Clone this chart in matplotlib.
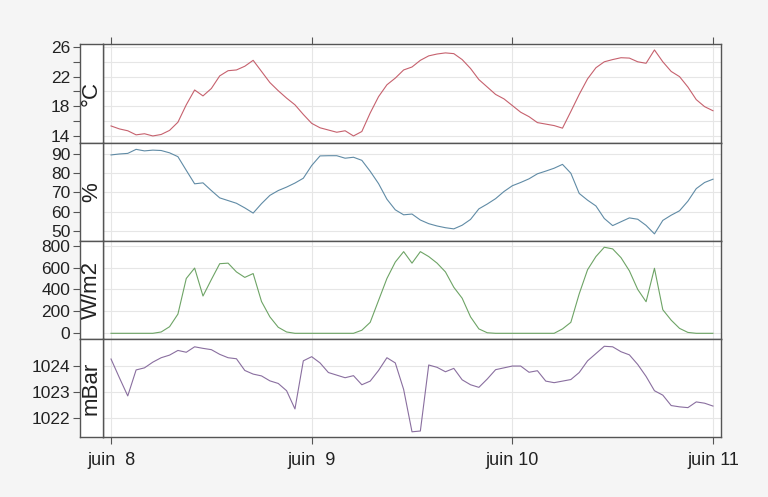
import matplotlib
matplotlib.use('Agg')
import matplotlib.pyplot as plt
import numpy as np

plt.rcParams['font.family'] = ['Liberation Sans', 'DejaVu Sans']

# hourly readings, juin 8 00:00 -> juin 11 00:00
hours = np.arange(73)

temperature = [
    15.35, 14.95, 14.7, 14.15, 14.3, 14.0, 14.2, 14.75, 15.85, 18.2,
    20.2, 19.4, 20.4, 22.1, 22.8, 22.9, 23.4, 24.2, 22.7, 21.2,
    20.1, 19.1, 18.2, 16.9, 15.7, 15.1, 14.8, 14.5, 14.7, 14.0,
    14.6, 17.1, 19.3, 20.9, 21.8, 22.9, 23.3, 24.2, 24.8, 25.05,
    25.2, 25.1, 24.3, 23.1, 21.6, 20.6, 19.6, 19.0, 18.1, 17.2,
    16.6, 15.8, 15.6, 15.4, 15.05, 17.3, 19.6, 21.7, 23.2, 24.0,
    24.3, 24.55, 24.5, 24.0, 23.8, 25.6, 24.0, 22.7, 22.0, 20.6,
    18.9, 17.95, 17.4,
]

humidity = [
    89.5, 90.0, 90.3, 92.4, 91.6, 92.0, 91.8, 90.6, 88.6, 81.5,
    74.5, 75.0, 71.0, 67.2, 65.8, 64.4, 62.0, 59.3, 64.2, 68.5,
    71.0, 72.8, 74.9, 77.4, 84.0, 89.0, 89.1, 89.1, 87.8, 88.3,
    86.7, 81.0, 74.6, 66.5, 61.0, 58.4, 58.8, 55.7, 53.8, 52.6,
    51.7, 51.1, 53.0, 56.0, 61.5, 64.0, 66.8, 70.5, 73.5, 75.2,
    77.1, 79.7, 81.1, 82.6, 84.6, 80.0, 69.5, 66.0, 63.0, 56.5,
    52.8, 54.8, 56.8, 56.1, 52.9, 48.5, 55.5, 58.2, 60.5, 65.5,
    72.0, 75.2, 76.9,
]

radiation = [
    0, 0, 0, 0, 0, 0, 12, 60, 175, 500,
    595, 340, 490, 635, 640, 560, 510, 545, 290, 150,
    55, 12, 0, 0, 0, 0, 0, 0, 0, 0,
    28, 100, 300, 500, 650, 745, 640, 745, 700, 640,
    560, 420, 320, 150, 40, 5, 0, 0, 0, 0,
    0, 0, 0, 0, 40, 100, 360, 580, 700, 785,
    770, 690, 570, 400, 288, 593, 215, 120, 45, 8,
    0, 0, 0,
]

pressure = [
    1024.27, 1023.55, 1022.85, 1023.85, 1023.93, 1024.15, 1024.32, 1024.42, 1024.60, 1024.53,
    1024.74, 1024.68, 1024.63, 1024.45, 1024.32, 1024.28, 1023.83, 1023.69, 1023.62, 1023.43,
    1023.33, 1023.05, 1022.35, 1024.20, 1024.36, 1024.12, 1023.75, 1023.65, 1023.55, 1023.63,
    1023.28, 1023.42, 1023.83, 1024.32, 1024.12, 1023.10, 1021.47, 1021.50, 1024.04, 1023.95,
    1023.78, 1023.91, 1023.47, 1023.28, 1023.18, 1023.50, 1023.86, 1023.93, 1024.00, 1024.00,
    1023.76, 1023.82, 1023.42, 1023.36, 1023.42, 1023.48, 1023.75, 1024.20, 1024.48, 1024.76,
    1024.74, 1024.55, 1024.43, 1024.06, 1023.60, 1023.05, 1022.88, 1022.48, 1022.43, 1022.40,
    1022.62, 1022.57, 1022.46,
]

units = ['°C', '%', 'W/m2', 'mBar']
day_ticks = [0, 24, 48, 72]
day_labels = ['juin  8', 'juin  9', 'juin 10', 'juin 11']

W, H = 768, 497
bg = '#f5f5f5'
frame = '#555555'
grid = '#e6e6e6'

fig = plt.figure(figsize=(W / 100, H / 100), dpi=100, facecolor=bg)

# pixel layout (top, bottom) of each panel
rows = [(44, 143), (143, 241), (241, 339), (339, 437)]
x_strip, x_data, x_right = 80, 103, 721

panels = [
    dict(y=temperature, color='#c0505e', ylim=(13.05, 26.4),
         grid=[14, 16, 18, 20, 22, 24, 26], labels=[14, 18, 22, 26]),
    dict(y=humidity, color='#4f7f9c', ylim=(44.8, 95.7),
         grid=[50, 60, 70, 80, 90], labels=[50, 60, 70, 80, 90]),
    dict(y=radiation, color='#5e9a55', ylim=(-52, 842),
         grid=[0, 200, 400, 600, 800], labels=[0, 200, 400, 600, 800]),
    dict(y=pressure, color='#7d5f95', ylim=(1021.27, 1025.04),
         grid=[1022, 1023, 1024], labels=[1022, 1023, 1024]),
]

for i, (p, unit, (top, bot)) in enumerate(zip(panels, units, rows)):
    b = 1 - bot / H
    h = (bot - top) / H
    ax = fig.add_axes([x_data / W, b, (x_right - x_data) / W, h])
    strip = fig.add_axes([x_strip / W, b, (x_data - x_strip) / W, h])

    ax.plot(hours, p['y'], color=p['color'], lw=0.8, alpha=0.9)
    ax.set_xlim(-0.96, 72.96)
    ax.set_ylim(*p['ylim'])
    for g in p['grid']:
        ax.axhline(g, color=grid, lw=0.8, zorder=0)
    for d in day_ticks:
        ax.axvline(d, color=grid, lw=0.8, zorder=0)
    ax.tick_params(axis='y', left=False, labelleft=False)
    ax.set_xticks(day_ticks)
    ax.tick_params(axis='x', direction='out', length=5, color=frame,
                   bottom=(i == 3), top=(i == 0),
                   labelbottom=(i == 3), labeltop=False,
                   labelsize=13, labelcolor='#222222', pad=6)
    if i == 3:
        ax.set_xticklabels(day_labels)
    for s in ax.spines.values():
        s.set_color(frame)
        s.set_linewidth(1.0)
    ax.set_facecolor('white')

    strip.set_facecolor('white')
    strip.set_xticks([])
    strip.set_ylim(*p['ylim'])
    strip.set_yticks(p['grid'])
    strip.set_yticklabels([str(v) if v in p['labels'] else '' for v in p['grid']])
    strip.tick_params(axis='y', direction='out', length=5, color=frame,
                      labelsize=12.5, labelcolor='#222222', pad=2)
    for s in strip.spines.values():
        s.set_color(frame)
        s.set_linewidth(1.0)
    strip.text(0.5, 0.5, unit, transform=strip.transAxes, rotation=90,
               ha='center', va='center', fontsize=16, color='#222222')

fig.savefig('out.png', dpi=100, facecolor=bg)
